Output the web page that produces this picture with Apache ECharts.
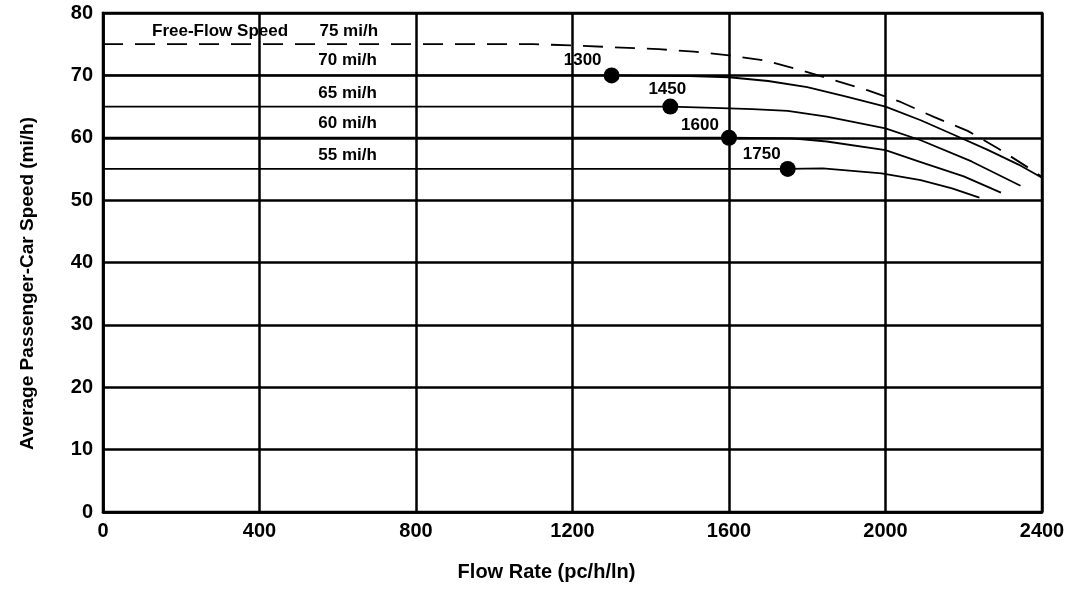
<!DOCTYPE html>
<html>
<head>
<meta charset="utf-8">
<script src="https://cdn.jsdelivr.net/npm/echarts@6/dist/echarts.min.js"></script>
<style>
html,body{margin:0;padding:0;background:#fff;}
#chart{width:1071px;height:594px;}
</style>
</head>
<body>
<div id="chart"></div>
<script>
// ---- data ----
const ffs75 = [[0,75],[1100,75],[1200,74.8],[1420,74.2],[1510,73.8],[1600,73.2],[1690,72.4],[1780,70.9],[1865,69.3],[1955,67.6],[2040,65.7],[2125,63.3],[2210,61.1],[2290,58.2],[2370,55.0],[2400,53.7]];
const ffs70 = [[0,70],[1300,70],[1500,69.9],[1600,69.7],[1700,69.1],[1800,68.1],[1900,66.6],[2000,65.0],[2090,62.8],[2170,60.6],[2260,58.1],[2340,55.7],[2400,53.6]];
const ffs65 = [[0,65],[1450,65],[1560,64.8],[1660,64.6],[1750,64.3],[1850,63.4],[2000,61.5],[2090,59.6],[2220,56.2],[2345,52.3]];
const ffs60 = [[0,60],[1600,60],[1760,59.9],[1850,59.4],[2000,58.0],[2090,56.1],[2200,53.8],[2295,51.2]];
const ffs55 = [[0,55],[1750,55],[1840,55.1],[1990,54.3],[2090,53.2],[2170,51.9],[2240,50.4]];
const breakX = [1300,1450,1600,1750];
const breakY = [70,65,60,55];
const breakLabels = ['1300','1450','1600','1750'];
const speedTexts = ['Free-Flow Speed','75 mi/h','70 mi/h','65 mi/h','60 mi/h','55 mi/h'];
const speedTextX = [473,703,700,700,700,700];
const speedTextY = [77.1,77.1,72.4,67.1,62.3,57.2];
const xMin = 0, xMax = 2400, xStep = 400;
const yMin = 0, yMax = 80, yStep = 10;
const xTitle = 'Flow Rate (pc/h/ln)';
const yTitle = 'Average Passenger-Car Speed (mi/h)';

// ---- style ----
const FONT = 'Liberation Sans, Arial, sans-serif';
const labelOffsets = [[-29,-15],[-3,-17],[-29,-12],[-26,-15]];

const chart = echarts.init(document.getElementById('chart'), null, {renderer:'canvas'});
function curve(name, data, dashed){
  return {
    name, type:'line', data, symbol:'none', smooth:false,
    lineStyle: dashed ? {color:'#000', width:1.8, type:[20,12]} : {color:'#000', width:1.8},
    z:3, silent:true
  };
}
const txt = {fontFamily:FONT, color:'#000', fontWeight:'bold'};
const option = {
  backgroundColor:'#fff',
  animation:false,
  grid:{left:103, right:29, top:13, bottom:82, show:true, borderColor:'#000', borderWidth:2.5},
  xAxis:{
    type:'value', min:xMin, max:xMax, interval:xStep,
    name:xTitle, nameLocation:'middle', nameGap:50,
    nameTextStyle:Object.assign({fontSize:20, padding:[0,52,0,0]}, txt),
    axisLine:{show:true, lineStyle:{color:'#000', width:2.5}},
    axisTick:{show:false},
    axisLabel:Object.assign({fontSize:20, margin:9, formatter:v=>String(v)}, txt),
    splitLine:{show:true, lineStyle:{color:'#000', width:2.5}}
  },
  yAxis:{
    type:'value', min:yMin, max:yMax, interval:yStep,
    name:yTitle, nameLocation:'middle', nameGap:66,
    nameTextStyle:Object.assign({fontSize:19, padding:[0,42,0,0]}, txt),
    axisLine:{show:true, lineStyle:{color:'#000', width:2.5}},
    axisTick:{show:false},
    axisLabel:Object.assign({fontSize:20, margin:10, formatter:v=>String(v)}, txt),
    splitLine:{show:true, lineStyle:{color:'#000', width:2.5}}
  },
  series:[
    curve('75', ffs75, true),
    curve('70', ffs70),
    curve('65', ffs65),
    curve('60', ffs60),
    curve('55', ffs55),
    {
      type:'scatter', symbol:'circle', symbolSize:16, z:5, silent:true,
      itemStyle:{color:'#000', opacity:1},
      data: breakX.map((x,i)=>({
        value:[x, breakY[i]],
        label:Object.assign({show:true, formatter:breakLabels[i], position:'inside', offset:labelOffsets[i],
               fontSize:17}, txt)
      }))
    },
    {
      type:'scatter', symbolSize:0, z:6, silent:true,
      itemStyle:{opacity:1},
      data: speedTexts.map((t,i)=>({
        value:[speedTextX[i], speedTextY[i]],
        label:Object.assign({show:true, formatter:t, position:'left', distance:0, fontSize:17}, txt)
      }))
    }
  ]
};
chart.setOption(option);
</script>
</body>
</html>
